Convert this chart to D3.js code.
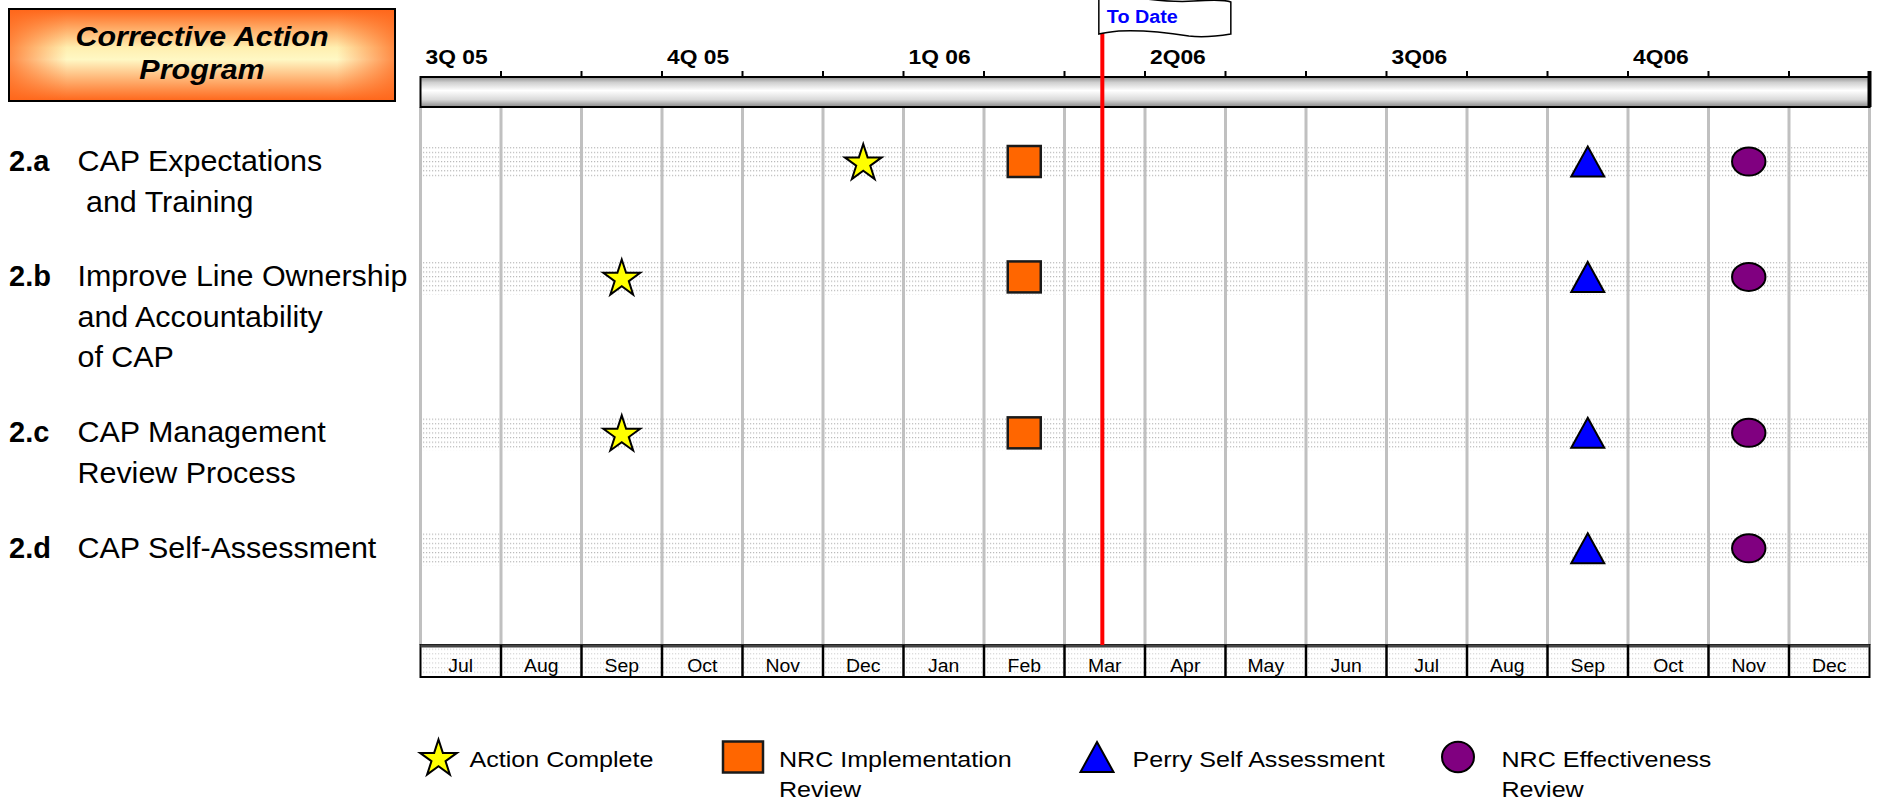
<!DOCTYPE html>
<html>
<head>
<meta charset="utf-8">
<script src="https://cdn.jsdelivr.net/npm/d3@7"></script>
<style>
  body { margin: 0; background: #fff; }
  text { font-family: "Liberation Sans", Arial, sans-serif; white-space: pre; }
</style>
</head>
<body>
<svg id="chart"></svg>
<script>
/*
Corrective Action Program - milestone chart, Jul 05 -> Dec 06
*/

// ---- data ----
const monthKeys = ["Jul 05", "Aug 05", "Sep 05", "Oct 05", "Nov 05", "Dec 05",
                   "Jan 06", "Feb 06", "Mar 06", "Apr 06", "May 06", "Jun 06",
                   "Jul 06", "Aug 06", "Sep 06", "Oct 06", "Nov 06", "Dec 06"];
const monthLabels = monthKeys.map(k => k.slice(0, 3));
const quarters = ["3Q 05", "4Q 05", "1Q 06", "2Q06", "3Q06", "4Q06"];

const tasks = ["2.a", "2.b", "2.c", "2.d"];
const taskText = [
    ["CAP Expectations", " and Training"],
    ["Improve Line Ownership", "and Accountability", "of CAP"],
    ["CAP Management", "Review Process"],
    ["CAP Self-Assessment"]
];

const actionComplete = [
    {task: "2.a", month: "Dec 05"},
    {task: "2.b", month: "Sep 05"},
    {task: "2.c", month: "Sep 05"}
];
const nrcImplementation = [
    {task: "2.a", month: "Feb 06"},
    {task: "2.b", month: "Feb 06"},
    {task: "2.c", month: "Feb 06"}
];
const perrySelfAssessment = [
    {task: "2.a", month: "Sep 06"},
    {task: "2.b", month: "Sep 06"},
    {task: "2.c", month: "Sep 06"},
    {task: "2.d", month: "Sep 06"}
];
const nrcEffectiveness = [
    {task: "2.a", month: "Nov 06"},
    {task: "2.b", month: "Nov 06"},
    {task: "2.c", month: "Nov 06"},
    {task: "2.d", month: "Nov 06"}
];

// "To Date" marker, about the middle of March
const toDate = {month: "Mar 06", part: 0.47, label: "To Date"};

const legendItems = [
    {type: "star", lines: ["Action Complete"]},
    {type: "square", lines: ["NRC Implementation", "Review"]},
    {type: "triangle", lines: ["Perry Self Assessment"]},
    {type: "circle", lines: ["NRC Effectiveness", "Review"]}
];

// ---- layout ----
const W = 1878, H = 803;
const barTop = 77, barBottom = 107;
const rowTop = 645, rowBottom = 677;
const legendX = [438.5, 743, 1097, 1458];
const legendY = 757;

const svg = d3.select("#chart").attr("width", W).attr("height", H);
const defs = svg.append("defs");

// month scale (equal width months)
const x = d3.scaleLinear().domain([0, monthKeys.length]).range([420.5, 1869.5]);
const mx = m => x(monthKeys.indexOf(m) + 0.5);

// rows are stacked by how many text lines they carry
const lineH = d3.scaleLinear().domain([0, 1]).range([161.5, 202]);
var acc = 0;
const rowStart = {};
tasks.forEach((t, i) => {
    rowStart[t] = acc;
    acc += taskText[i].length + 0.85;
});
const ty = t => lineH(rowStart[t]);

// text with a little horizontal stretch like the original slide
function stext(g, px, py, txt, sx) {
    return g.append("text")
        .attr("transform", `translate(${px},${py}) scale(${sx},1)`)
        .text(txt);
}

// ---- gradients / patterns ----
const gTitle = defs.append("linearGradient").attr("id", "titleV").attr("x1", 0).attr("y1", 0).attr("x2", 0).attr("y2", 1);
[[0, "#ff661a"], [0.42, "#ffefb0"], [0.55, "#fff8c4"], [1, "#ff661a"]].forEach(s =>
    gTitle.append("stop").attr("offset", s[0]).attr("stop-color", s[1]));
const gTitleH = defs.append("linearGradient").attr("id", "titleH");
[[0, "#ff661a", 0.75], [0.15, "#ff661a", 0], [0.85, "#ff661a", 0], [1, "#ff661a", 0.75]].forEach(s =>
    gTitleH.append("stop").attr("offset", s[0]).attr("stop-color", s[1]).attr("stop-opacity", s[2]));

const gBar = defs.append("linearGradient").attr("id", "barG").attr("x1", 0).attr("y1", 0).attr("x2", 0).attr("y2", 1);
[[0, "#8e8e8e"], [0.18, "#cfcfcf"], [0.45, "#ffffff"], [0.75, "#dadada"], [1, "#8a8a8a"]].forEach(s =>
    gBar.append("stop").attr("offset", s[0]).attr("stop-color", s[1]));

const dots = defs.append("pattern").attr("id", "dots")
    .attr("patternUnits", "userSpaceOnUse").attr("width", 3).attr("height", 4.6);
dots.append("rect").attr("width", 1.2).attr("height", 1.2).attr("fill", "#b8b8b8");

// ---- title box ----
const title = svg.append("g");
title.append("rect").attr("x", 9).attr("y", 9).attr("width", 386).attr("height", 92)
    .attr("fill", "url(#titleV)");
title.append("rect").attr("x", 9).attr("y", 9).attr("width", 386).attr("height", 92)
    .attr("fill", "url(#titleH)").attr("stroke", "#000").attr("stroke-width", 2);
["Corrective Action", "Program"].forEach((d, i) => {
    stext(title, 202, 46 + i * 33, d, 1.13)
        .attr("text-anchor", "middle")
        .attr("font-size", 27).attr("font-weight", "bold").attr("font-style", "italic");
});

// ---- row bands ----
const chart = svg.append("g");
chart.selectAll(".band").data(tasks).enter().append("rect")
    .attr("class", "band")
    .attr("x", x(0)).attr("width", x(monthKeys.length) - x(0))
    .attr("y", d => ty(d) - 16.5).attr("height", 34)
    .attr("fill", "url(#dots)");

// vertical month grid
chart.selectAll(".grid").data(d3.range(monthKeys.length + 1)).enter().append("line")
    .attr("class", "grid")
    .attr("x1", d => x(d)).attr("x2", d => x(d))
    .attr("y1", barBottom).attr("y2", rowTop)
    .attr("stroke", "#c0c0c0").attr("stroke-width", 3);

// ---- timeline bar + quarter labels ----
chart.append("rect").attr("x", x(0)).attr("y", barTop)
    .attr("width", x(monthKeys.length) - x(0)).attr("height", barBottom - barTop)
    .attr("fill", "url(#barG)").attr("stroke", "#000").attr("stroke-width", 2);

chart.selectAll(".tick").data(d3.range(1, monthKeys.length + 1)).enter().append("line")
    .attr("class", "tick")
    .attr("x1", d => x(d)).attr("x2", d => x(d))
    .attr("y1", 71).attr("y2", d => d == monthKeys.length ? barBottom : barTop)
    .attr("stroke", "#000").attr("stroke-width", d => d == monthKeys.length ? 4 : 2);

quarters.forEach((q, i) => {
    stext(chart, x(i * 3) + 5, 63.5, q, 1.17)
        .attr("font-size", 19.5).attr("font-weight", "bold");
});

// ---- month row at the bottom ----
const mrow = svg.append("g");
mrow.append("rect").attr("x", x(0)).attr("y", rowTop)
    .attr("width", x(monthKeys.length) - x(0)).attr("height", rowBottom - rowTop)
    .attr("fill", "url(#dots)").attr("fill-opacity", 0.6).attr("stroke", "#000").attr("stroke-width", 2);
mrow.append("line").attr("x1", x(0)).attr("x2", x(monthKeys.length))
    .attr("y1", rowTop + 1).attr("y2", rowTop + 1)
    .attr("stroke", "#444").attr("stroke-width", 3);
mrow.selectAll(".div").data(d3.range(1, monthKeys.length)).enter().append("line")
    .attr("class", "div")
    .attr("x1", d => x(d)).attr("x2", d => x(d))
    .attr("y1", rowTop).attr("y2", rowBottom)
    .attr("stroke", "#000").attr("stroke-width", 2.5);
monthLabels.forEach((m, i) => {
    stext(mrow, x(i + 0.5), 671.5, m, 1.05)
        .attr("text-anchor", "middle").attr("font-size", 18.5);
});

// ---- to date line + flag ----
const tdx = x(monthKeys.indexOf(toDate.month) + toDate.part);
svg.append("line").attr("x1", tdx).attr("x2", tdx).attr("y1", 30).attr("y2", rowTop)
    .attr("stroke", "#ff0000").attr("stroke-width", 4);
const flag = svg.append("g").attr("transform", `translate(${tdx - 3.5},0)`);
flag.append("path")
    .attr("d", "M0,-3 C35,-6 60,4 95,1 C110,0 125,-1 132,2 L132,34 C120,36 105,38 90,36 C65,32 40,30 20,31 C10,32 4,33 0,34 Z")
    .attr("fill", "#fff").attr("stroke", "#000").attr("stroke-width", 1.5);
stext(flag, 8, 22.5, toDate.label, 1.13)
    .attr("font-size", 17.5).attr("font-weight", "bold").attr("fill", "#0000ff");

// ---- task labels ----
const labels = svg.append("g");
tasks.forEach((t, i) => {
    stext(labels, 9, ty(t) + 9.5, t, 1.0)
        .attr("font-size", 29).attr("font-weight", "bold");
    taskText[i].forEach((line, k) => {
        stext(labels, 77.5, ty(t) + 9.5 + (lineH(k) - lineH(0)), line, 1.05)
            .attr("font-size", 29);
    });
});

// ---- markers ----
const starPath = d3.symbol(d3.symbolStar, 422)();
function mark(g, type, legend) {
    if (type == "star") {
        g.append("path").attr("d", starPath).attr("transform", "translate(0,1.9)")
            .attr("fill", "#ffff00").attr("stroke", "#000").attr("stroke-width", 2);
    } else if (type == "square") {
        var w = legend ? 40 : 33, h = 31;
        g.append("rect").attr("x", -w / 2).attr("y", -h / 2).attr("width", w).attr("height", h)
            .attr("fill", "#ff6600").attr("stroke", "#1a1a1a").attr("stroke-width", 2.5);
    } else if (type == "triangle") {
        g.append("path").attr("d", "M0,-15 L16.5,15 L-16.5,15 Z")
            .attr("fill", "#0000ff").attr("stroke", "#000").attr("stroke-width", 2);
    } else {
        g.append("ellipse").attr("rx", legend ? 16 : 16.7).attr("ry", legend ? 15.3 : 14)
            .attr("fill", "#800080").attr("stroke", "#000").attr("stroke-width", 2);
    }
}

const series = [
    ["star", actionComplete],
    ["square", nrcImplementation],
    ["triangle", perrySelfAssessment],
    ["circle", nrcEffectiveness]
];
const marks = svg.append("g");
series.forEach(([type, data]) => {
    marks.selectAll(null).data(data).enter().append("g")
        .attr("transform", d => `translate(${mx(d.month)},${ty(d.task)})`)
        .each(function () { mark(d3.select(this), type, false); });
});

// ---- legend ----
const legend = svg.append("g");
legendItems.forEach((it, i) => {
    const lg = legend.append("g").attr("transform", `translate(${legendX[i]},${legendY})`);
    mark(lg, it.type, true);
    const tx = it.type == "square" ? 36 : it.type == "circle" ? 43.5 : it.type == "triangle" ? 35.5 : 31;
    it.lines.forEach((l, k) => {
        stext(lg, tx, 10 + k * 30, l, 1.14).attr("font-size", 22);
    });
});
</script>
</body>
</html>
